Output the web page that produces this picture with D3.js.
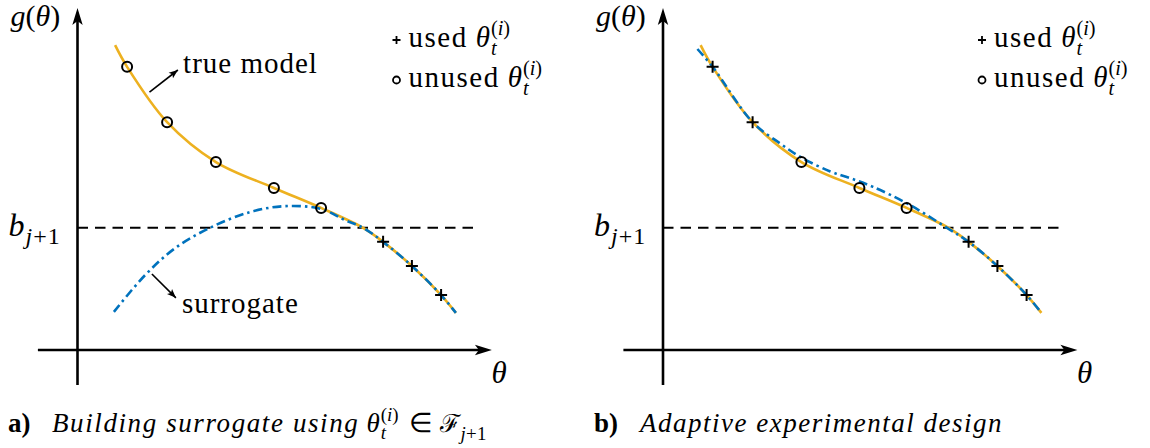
<!DOCTYPE html>
<html>
<head>
<meta charset="utf-8">
<script src="https://cdn.jsdelivr.net/npm/d3@7"></script>
<style>
  body { margin: 0; background: #fff; }
  svg { display: block; }
</style>
</head>
<body>
<svg id="chart" width="1150" height="448"></svg>
<script>
// ---- data (θ and g(θ) in abstract axis units) ----
// true model: knots of the smooth curve, including the sample points θ_t^(i)
const trueTheta = [0.94, 1.24, 2.24, 3.46, 4.91, 6.09, 7.14, 7.64, 8.36, 9.09, 9.46];
const trueG     = [8.71, 8.09, 6.51, 5.37, 4.63, 4.06, 3.49, 3.09, 2.40, 1.57, 1.06];

// sample points θ_t^(i) on the true model
const sampleTheta = [1.24, 2.24, 3.46, 4.91, 6.09, 7.64, 8.36, 9.09];
const sampleG     = [8.09, 6.51, 5.37, 4.63, 4.06, 3.09, 2.40, 1.57];
// which samples are used by the surrogate in each panel
const usedA = [false, false, false, false, false, true, true, true];
const usedB = [true, true, false, false, false, true, true, true];

// surrogate fitted only to the samples in F_{j+1}
const surrATheta = [0.91, 1.69, 2.44, 3.31, 4.31, 5.19, 6.09, 6.69, 7.14, 7.64, 8.36, 9.09, 9.46];
const surrAG     = [1.09, 2.14, 2.91, 3.49, 3.94, 4.11, 4.03, 3.71, 3.49, 3.09, 2.40, 1.57, 1.06];

// surrogate after adaptive experimental design
const surrBTheta = [0.86, 1.24, 2.24, 2.93, 3.46, 4.18, 4.68, 5.25, 6.13, 7.10, 7.64, 8.36, 9.09, 9.46];
const surrBG     = [8.60, 8.09, 6.51, 5.90, 5.50, 5.10, 4.91, 4.66, 4.17, 3.49, 3.09, 2.40, 1.57, 1.06];

// threshold b_{j+1}
const threshold = 3.49;

// axis extents (θ from, θ to) and (g from, g to)
const thetaExtent = [-0.99, 10.36];
const gExtent = [-1.0, 9.77];
const thresholdEnd = 10.04;

// ---- font: first serif face that is really present ----
function pickSerif(candidates) {
  const ctx = document.createElement("canvas").getContext("2d");
  const probe = "mmmmmmmmmwwwwwlllliiiθ";
  const widthWith = f => { ctx.font = `40px ${f}`; return ctx.measureText(probe).width; };
  const bases = ["monospace", "sans-serif"].map(b => [b, widthWith(b)]);
  for (const c of candidates) {
    if (bases.some(([b, w]) => Math.abs(widthWith(`'${c}', ${b}`) - w) > 0.5)) return `'${c}'`;
  }
  return "serif";
}
const SERIF = pickSerif(["Liberation Serif", "DejaVu Serif", "Times New Roman", "Tinos",
  "Noto Serif", "FreeSerif", "Nimbus Roman", "TeX Gyre Termes", "Latin Modern Roman", "CMU Serif", "Times"]) + ", serif";

// ---- drawing ----
const svg = d3.select("#chart");
const ORANGE = "#EDB120", BLUE = "#0072BD";
const FS = 29;

// draw a run of text pieces: runs = [[string, italic], ...]
function piece(sel, x, y, size, runs, bold, spacing) {
  const t = sel.append("text").attr("x", x).attr("y", y)
    .style("font-family", SERIF).attr("fill", "#000")
    .attr("font-size", size).attr("font-weight", bold ? "bold" : "normal");
  if (spacing) t.attr("letter-spacing", spacing);
  runs.forEach(([s, it]) => t.append("tspan").attr("font-style", it ? "italic" : "normal").text(s));
  return x + t.node().getComputedTextLength();
}

// θ with stacked sub t and sup (i)
function thetaTI(sel, x, y, size) {
  let cx = piece(sel, x, y, size, [["θ", true]]);
  const ss = size * 0.7;
  const e1 = piece(sel, cx + 1, y - size * 0.42, ss, [["(", false], ["i", true], [")", false]]);
  const e2 = piece(sel, cx + 1, y + size * 0.26, ss, [["t", true]]);
  return Math.max(e1, e2);
}

const arrowUp = (tx, ty) => `M${tx},${ty} L${tx - 5.2},${ty + 17} L${tx},${ty + 13} L${tx + 5.2},${ty + 17} Z`;
const arrowRight = (tx, ty) => `M${tx},${ty} L${tx - 17},${ty - 5.2} L${tx - 13},${ty} L${tx - 17},${ty + 5.2} Z`;

function smallArrow(g, x1, y1, x2, y2) {
  g.append("line").attr("x1", x1).attr("y1", y1).attr("x2", x2).attr("y2", y2)
    .attr("stroke", "#000").attr("stroke-width", 1.6);
  const a = Math.atan2(y2 - y1, x2 - x1) * 180 / Math.PI;
  g.append("path").attr("d", "M0,0 L-9,-3.6 L-7,0 L-9,3.6 Z")
    .attr("transform", `translate(${x2},${y2}) rotate(${a})`).attr("fill", "#000");
}

function drawPanel(ox, cfg) {
  const g = svg.append("g");
  const x = d3.scaleLinear().domain([0, 10]).range([ox, ox + 400]);
  const y = d3.scaleLinear().domain([0, 10]).range([350, 0]);

  // axes
  g.append("line").attr("x1", x(thetaExtent[0])).attr("x2", x(thetaExtent[1]) - 12)
    .attr("y1", y(0)).attr("y2", y(0)).attr("stroke", "#000").attr("stroke-width", 2.6);
  g.append("path").attr("d", arrowRight(x(thetaExtent[1]), y(0))).attr("fill", "#000");
  g.append("line").attr("x1", x(0)).attr("x2", x(0))
    .attr("y1", y(gExtent[0])).attr("y2", y(gExtent[1]) + 12).attr("stroke", "#000").attr("stroke-width", 2.6);
  g.append("path").attr("d", arrowUp(x(0), y(gExtent[1]))).attr("fill", "#000");

  // threshold
  g.append("line").attr("x1", x(0)).attr("x2", x(thresholdEnd))
    .attr("y1", y(threshold)).attr("y2", y(threshold))
    .attr("stroke", "#000").attr("stroke-width", 2).attr("stroke-dasharray", "10.5,7");

  const line = d3.line().x(d => x(d[0])).y(d => y(d[1])).curve(d3.curveCatmullRom.alpha(0.5));

  g.append("path").attr("d", line(d3.zip(trueTheta, trueG)))
    .attr("fill", "none").attr("stroke", ORANGE).attr("stroke-width", 2.6);
  g.append("path").attr("d", line(d3.zip(cfg.surrTheta, cfg.surrG)))
    .attr("fill", "none").attr("stroke", BLUE).attr("stroke-width", 2.6)
    .attr("stroke-dasharray", "9,4,2.5,4");

  // sample markers
  sampleTheta.forEach((t, i) => {
    const px = x(t), py = y(sampleG[i]);
    if (cfg.used[i]) {
      g.append("path").attr("d", `M${px - 6},${py} H${px + 6} M${px},${py - 6} V${py + 6}`)
        .attr("stroke", "#000").attr("stroke-width", 2);
    } else {
      g.append("circle").attr("cx", px).attr("cy", py).attr("r", 5)
        .attr("fill", "none").attr("stroke", "#000").attr("stroke-width", 2);
    }
  });

  // axis labels
  piece(g, ox - 67, 26, 30, [["g", true], ["(", false], ["θ", true], [")", false]]);
  let bx = piece(g, ox - 69, 236, 32, [["b", true]]);
  piece(g, bx + 1, 244, 24, [["j", true], ["+1", false]], false, 1);
  piece(g, ox + 414, 383, 31, [["θ", true]]);

  // legend
  const lx = ox + 319;
  g.append("path").attr("d", `M${lx - 4},40 H${lx + 4} M${lx},36 V44`).attr("stroke", "#000").attr("stroke-width", 1.8);
  g.append("circle").attr("cx", lx).attr("cy", 80).attr("r", 3.5).attr("fill", "none").attr("stroke", "#000").attr("stroke-width", 1.8);
  let e = piece(g, lx + 12, 47, FS, [["used", false]], false, 1.5);
  thetaTI(g, e + 8, 47, FS);
  e = piece(g, lx + 12, 87, FS, [["unused", false]], false, 1.5);
  thetaTI(g, e + 8, 87, FS);

  cfg.extra && cfg.extra(g, x, y);
  return g;
}

drawPanel(77.5, {
  surrTheta: surrATheta, surrG: surrAG, used: usedA,
  extra: (g, x, y) => {
    smallArrow(g, x(1.8), y(7.37), x(2.51), y(8.0));
    piece(g, x(2.64), y(7.91), FS, [["true model", false]], false, 1);
    smallArrow(g, x(1.86), y(2.17), x(2.46), y(1.49));
    piece(g, x(2.61), y(1.06), FS, [["surrogate", false]], false, 1);
  }
});
drawPanel(663, { surrTheta: surrBTheta, surrG: surrBG, used: usedB });

// captions
const TS = 27;
piece(svg, 8, 432, TS, [["a)", false]], true);
let cx = piece(svg, 52, 432, TS, [["Building surrogate using", true]], false, 1.6);
cx = thetaTI(svg, cx + 7, 432, TS);
cx = piece(svg, cx + 10, 432, TS, [["∈", false]]);
cx = piece(svg, cx + 7, 432, TS * 0.92, [["ℱ", false]]);
piece(svg, cx + 1, 440, TS * 0.7, [["j", true], ["+1", false]], false, 0.3);

piece(svg, 594, 432, TS, [["b)", false]], true);
piece(svg, 640, 432, TS, [["Adaptive experimental design", true]], false, 1.5);
</script>
</body>
</html>
